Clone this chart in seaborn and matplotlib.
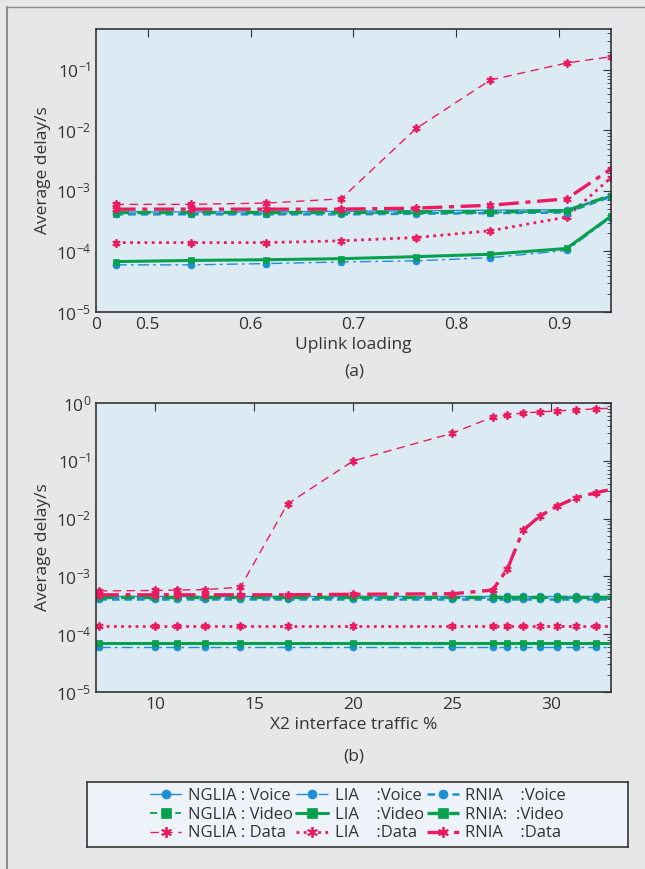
import numpy as np
import pandas as pd
import matplotlib
matplotlib.use("Agg")
import matplotlib.pyplot as plt
import seaborn as sns
from matplotlib.lines import Line2D
from matplotlib.ticker import LogLocator, FixedLocator

sns.set_style("white")
plt.rcParams['font.family'] = ['Open Sans', 'DejaVu Sans']
plt.rcParams['mathtext.fontset'] = 'custom'
plt.rcParams['mathtext.rm'] = 'Open Sans'

# ---- panel (a): uplink loading ----
load_x = [0.469, 0.542, 0.615, 0.688, 0.761, 0.833, 0.907, 0.95]
a_nglia_voice = [4.5e-4, 4.5e-4, 4.5e-4, 4.6e-4, 4.7e-4, 4.8e-4, 4.9e-4, 8.4e-4]
a_nglia_video = [4.2e-4, 4.2e-4, 4.2e-4, 4.3e-4, 4.3e-4, 4.4e-4, 4.6e-4, 8.3e-4]
a_nglia_data = [6.0e-4, 6.0e-4, 6.3e-4, 7.4e-4, 1.08e-2, 6.8e-2, 0.13, 0.165]
a_lia_voice = [6.0e-5, 6.0e-5, 6.3e-5, 6.7e-5, 7.0e-5, 7.9e-5, 1.04e-4, 3.6e-4]
a_lia_video = [6.8e-5, 7.1e-5, 7.3e-5, 7.6e-5, 8.2e-5, 9.0e-5, 1.12e-4, 3.8e-4]
a_lia_data = [1.4e-4, 1.4e-4, 1.4e-4, 1.5e-4, 1.7e-4, 2.2e-4, 3.7e-4, 1.65e-3]
a_rnia_voice = [4.1e-4, 4.1e-4, 4.1e-4, 4.1e-4, 4.2e-4, 4.3e-4, 4.4e-4, 8.0e-4]
a_rnia_video = [4.4e-4, 4.4e-4, 4.4e-4, 4.4e-4, 4.5e-4, 4.5e-4, 4.7e-4, 8.4e-4]
a_rnia_data = [5.0e-4, 5.0e-4, 5.0e-4, 5.0e-4, 5.2e-4, 5.8e-4, 7.4e-4, 2.3e-3]

# ---- panel (b): X2 interface traffic ----
x2_x = [7.14, 10.0, 11.11, 12.5, 14.29, 16.67, 20.0, 25.0, 27.03, 27.78,
        28.57, 29.41, 30.3, 31.25, 32.26, 33.33]
n = len(x2_x)
b_nglia_voice = [4.5e-4] * n
b_nglia_video = [4.2e-4] * n
b_nglia_data = [5.6e-4, 5.7e-4, 5.8e-4, 5.9e-4, 6.5e-4, 1.8e-2, 0.10, 0.30, 0.57,
                0.62, 0.67, 0.70, 0.73, 0.76, 0.79, 0.82]
b_lia_voice = [6.0e-5] * n
b_lia_video = [7.1e-5] * n
b_lia_data = [1.38e-4] * n
b_rnia_voice = [4.0e-4] * n
b_rnia_video = [4.35e-4] * n
b_rnia_data = [4.8e-4, 4.8e-4, 4.8e-4, 4.8e-4, 4.8e-4, 4.8e-4, 4.9e-4, 5.0e-4, 5.8e-4,
               1.35e-3, 6.3e-3, 1.1e-2, 1.65e-2, 2.3e-2, 2.8e-2, 3.4e-2]

labels = ["NGLIA : Voice", "NGLIA : Video", "NGLIA : Data",
          "LIA    :Voice", "LIA    :Video", "LIA    :Data",
          "RNIA    :Voice", "RNIA:  :Video", "RNIA    :Data"]

blue = "#1e8fd5"
green = "#07a04c"
pink = "#ec1a5e"
txt = "#333333"


def st(color, ls, lw, marker, ms, mew=0.5):
    return dict(color=color, linestyle=ls, linewidth=lw, marker=marker, markersize=ms,
                markeredgecolor=color, markerfacecolor=color, markeredgewidth=mew)


star = (6, 2, 0)
# style for each series, same order as labels
styles = [
    st(blue, "-", 1.0, "o", 5),
    st(green, (0, (4, 3)), 1.3, "s", 5),
    st(pink, (0, (6, 4)), 1.0, star, 6, 1.3),
    st(blue, (0, (8, 3, 2, 3)), 1.0, "o", 5),
    st(green, "-", 2.2, "s", 5),
    st(pink, (0, (1, 1.6)), 2.0, star, 6, 1.3),
    st(blue, (0, (3, 2)), 1.8, "o", 5),
    st(green, (0, (4, 2.5)), 2.4, "s", 5),
    st(pink, (0, (6, 2, 1.5, 2)), 2.4, star, 6, 1.3),
]

panel_a = [a_nglia_voice, a_nglia_video, a_nglia_data, a_lia_voice, a_lia_video,
           a_lia_data, a_rnia_voice, a_rnia_video, a_rnia_data]
panel_b = [b_nglia_voice, b_nglia_video, b_nglia_data, b_lia_voice, b_lia_video,
           b_lia_data, b_rnia_voice, b_rnia_video, b_rnia_data]

fig = plt.figure(figsize=(6.45, 8.69), dpi=100)
fig.patch.set_facecolor("#e6e7e8")
# page frame lines
fig.add_artist(Line2D([0.011, 0.011], [0, 0.992], transform=fig.transFigure, color="#8c8c8c", lw=1.5))
fig.add_artist(Line2D([0.011, 1.0], [0.992, 0.992], transform=fig.transFigure, color="#8c8c8c", lw=1.0))

ax1 = fig.add_axes([0.149, 0.641, 0.798, 0.326])
ax2 = fig.add_axes([0.149, 0.2037, 0.798, 0.3326])

FS = 12.5


def draw(ax, xs, series):
    for lab, ys, sty in zip(labels, series, styles):
        df = pd.DataFrame({"x": xs, "y": ys})
        sns.lineplot(data=df, x="x", y="y", ax=ax, label=lab, **sty)
    ax.set_yscale("log")
    ax.set_facecolor("#dceaf3")
    for s in ax.spines.values():
        s.set_color(txt)
        s.set_linewidth(1.2)
    ax.yaxis.set_major_locator(LogLocator(base=10, numticks=10))
    ax.yaxis.set_minor_locator(LogLocator(base=10, subs=np.arange(2, 10), numticks=10))
    ax.tick_params(which="both", direction="in", top=True, right=True, color=txt,
                   labelsize=FS, labelcolor=txt)
    ax.tick_params(which="major", length=6)
    ax.tick_params(which="minor", length=3)
    ax.legend_.remove()
    ax.set_ylabel("Average delay/s", fontsize=FS, color=txt, labelpad=3)


draw(ax1, load_x, panel_a)
ax1.set_xlim(0.45, 0.95)
ax1.set_ylim(1e-5, 0.48)
ax1.xaxis.set_major_locator(FixedLocator([0.45, 0.5, 0.6, 0.7, 0.8, 0.9]))
ax1.set_xticklabels(["0", "0.5", "0.6", "0.7", "0.8", "0.9"])
ax1.set_xlabel("Uplink loading", fontsize=FS, color=txt, labelpad=3)
ax1.xaxis.get_major_ticks()[0].tick1line.set_visible(False)
ax1.xaxis.get_major_ticks()[0].tick2line.set_visible(False)

draw(ax2, x2_x, panel_b)
ax2.set_xlim(7, 33)
ax2.set_ylim(1e-5, 1)
ax2.set_xticks([10, 15, 20, 25, 30])
ax2.set_xlabel("X2 interface traffic %", fontsize=FS, color=txt, labelpad=3)

fig.text(0.549, 0.572, "(a)", ha="center", va="center", fontsize=FS, color=txt)
fig.text(0.549, 0.129, "(b)", ha="center", va="center", fontsize=FS, color=txt)

# legend box
handles, labs = ax1.get_legend_handles_labels()
box = fig.add_axes([0.135, 0.0253, 0.839, 0.0748])
box.set_facecolor("#edf3f9")
box.set_xticks([])
box.set_yticks([])
for s in box.spines.values():
    s.set_color(txt)
    s.set_linewidth(1.2)
leg = fig.legend(handles, labs, ncol=3, loc="center", bbox_to_anchor=(0.555, 0.0625),
                 frameon=False, fontsize=12, handlelength=1.9, handletextpad=0.4,
                 columnspacing=0.2, labelspacing=0.16, borderpad=0.1, markerscale=1.3)
for t in leg.get_texts():
    t.set_color(txt)

fig.savefig("out.png", dpi=100, facecolor=fig.get_facecolor())
